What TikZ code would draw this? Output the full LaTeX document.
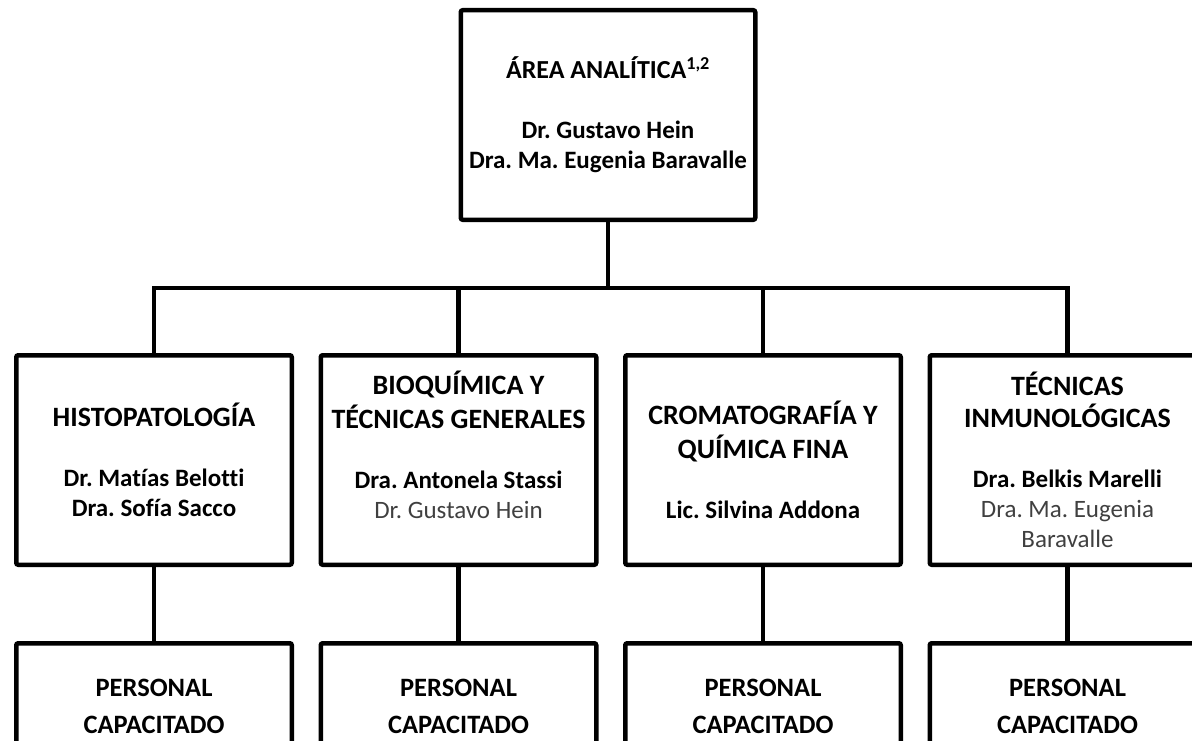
\documentclass[tikz,border=0pt]{standalone}
\usepackage{fontspec}
\setmainfont{Carlito}[Ligatures=NoCommon]
\usepackage{tikz}
\usetikzlibrary{positioning}
\frenchspacing
\definecolor{namegray}{HTML}{404040}
\tikzstyle{area} = [rectangle, rounded corners=2pt, draw=black, line width=4.5pt, minimum width=294.5pt, minimum height=209.5pt, inner sep=0pt, align=center, font=\fontsize{25}{30}\selectfont\bfseries]
\tikzstyle{unit} = [area, minimum width=275.5pt]
\tikzstyle{staff} = [unit, minimum height=126.5pt, font=\fontsize{26.5}{37}\selectfont\bfseries]
\tikzstyle{link} = [line width=4.5pt]
\newcommand{\heading}[1]{{\fontsize{28}{30}\selectfont #1}}
\newcommand{\cotutor}[1]{{\mdseries\color{namegray}#1}}

\begin{document}
\begin{tikzpicture}[x=1pt, y=-1pt]
		\useasboundingbox (0,0) rectangle (1192,741);
		\clip (0,0) rectangle (1192,741);
		\node (area) [area] at (608,115) {{\fontsize{26}{30}\selectfont ÁREA ANALÍTICA\textsuperscript{1,2}}\\[30pt]Dr. Gustavo Hein\\Dra. Ma. Eugenia Baravalle};
		\node (u1) [unit] at (154,460) {\heading{HISTOPATOLOGÍA}\\[30pt]Dr. Matías Belotti\\Dra. Sofía Sacco};
		\node (u2) [unit, right=24.5pt of u1] {\heading{BIOQUÍMICA Y}\\[4pt]\heading{TÉCNICAS GENERALES}\\[30pt]Dra. Antonela Stassi\\\cotutor{Dr. Gustavo Hein}\\~};
		\node (u3) [unit, right=24.5pt of u2] {\heading{CROMATOGRAFÍA Y}\\[4pt]\heading{QUÍMICA FINA}\\[30pt]Lic. Silvina Addona};
		\node (u4) [unit, right=24.5pt of u3] {\heading{TÉCNICAS}\\[2pt]\heading{INMUNOLÓGICAS}\\[30pt]Dra. Belkis Marelli\\\cotutor{Dra. Ma. Eugenia}\\\cotutor{Baravalle}};
		\node (p1) [staff, below=74pt of u1] {PERSONAL\\CAPACITADO};
		\node (p2) [staff, below=74pt of u2] {PERSONAL\\CAPACITADO};
		\node (p3) [staff, below=74pt of u3] {PERSONAL\\CAPACITADO};
		\node (p4) [staff, below=74pt of u4] {PERSONAL\\CAPACITADO};
		\foreach \i in {1,...,4}
		{
			\draw [link] (area.south) -- ++(0,66) -| (u\i.north);
			\draw [link] (u\i) -- (p\i);
		}
		\end{tikzpicture}
\end{document}
